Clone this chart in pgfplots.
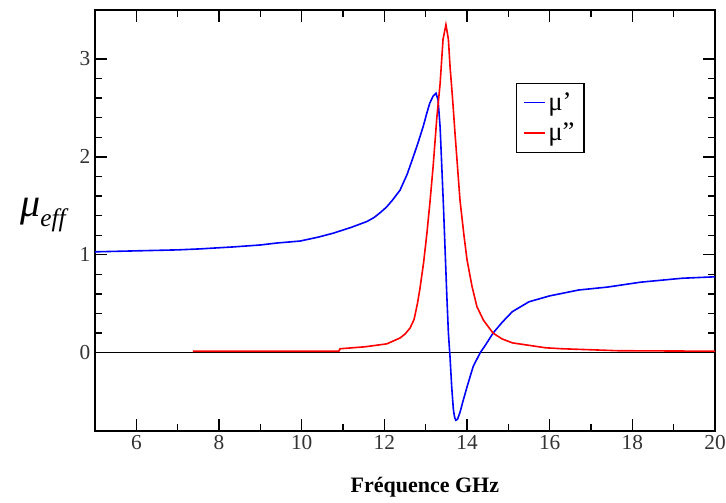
\documentclass[border=0pt]{standalone}
\usepackage{fontspec}
\setmainfont{Liberation Serif}
\usepackage{pgfplots}
\pgfplotsset{compat=1.18}
\begin{document}
\begin{tikzpicture}
\begin{axis}[
  scale only axis,
  width=465pt, height=315.75pt,
  xmin=5, xmax=20, ymin=-0.8, ymax=3.5,
  xtick={6,8,...,20}, ytick={0,1,2,3},
  minor x tick num=1, minor y tick num=4,
  tick align=inside,
  major tick length=9pt, minor tick length=5pt,
  axis line style={line width=1pt},
  every tick/.style={black, line width=1pt},
  tick label style={font=\fontsize{16}{17}\selectfont, text=black!80},
  /pgf/number format/assume math mode=true,
  xlabel={\fontsize{16.5}{18}\selectfont\bfseries Fréquence GHz},
  xlabel style={at={(axis description cs:0.532,0)}, anchor=center, yshift=-42pt},
  clip=false,
  legend style={at={(0.679,0.827)}, anchor=north west, draw=black, line width=1pt,
    font=\fontsize{20}{22}\selectfont, inner xsep=5pt, inner ysep=5pt, row sep=4pt},
  legend cell align=left,
  legend image code/.code={\draw[#1, line width=1.2pt] (0cm,0cm) -- (0.55cm,0cm);},
]
\addplot[black, line width=1pt, forget plot] coordinates {(5,0) (20,0)};
\addplot[blue, line width=1.2pt] coordinates {
(5,1.03) (6,1.04) (7,1.05) (7.54,1.06) (8.34,1.08) (9,1.10) (9.4,1.12) (9.96,1.14)
(10.4,1.18) (10.76,1.22) (11.2,1.28) (11.58,1.34) (11.75,1.38) (11.9,1.43) (12.06,1.49)
(12.2,1.56) (12.38,1.66) (12.55,1.82) (12.7,2.0) (12.82,2.15) (12.94,2.31) (13.03,2.45)
(13.1,2.55) (13.18,2.62) (13.25,2.65) (13.3,2.58) (13.35,2.3) (13.39,1.9) (13.43,1.5)
(13.47,1.05) (13.51,0.6) (13.55,0.2) (13.59,-0.05) (13.63,-0.35) (13.67,-0.58)
(13.7,-0.66) (13.73,-0.69) (13.77,-0.68) (13.83,-0.61) (13.9,-0.5) (14.0,-0.35)
(14.15,-0.14) (14.32,0) (14.45,0.08) (14.63,0.2) (14.85,0.31) (15.1,0.42) (15.5,0.52)
(16,0.58) (16.7,0.64) (17.4,0.67) (18.2,0.72) (19.2,0.76) (20,0.775)
};
\addlegendentry{μ'}
\addplot[red, line width=1.2pt] coordinates {
(7.37,0.015) (10.9,0.015) (10.93,0.04) (11.53,0.06) (12.06,0.09) (12.38,0.15) (12.5,0.19)
(12.62,0.25) (12.72,0.34) (12.8,0.5) (12.86,0.65) (12.95,0.92) (13.03,1.22) (13.1,1.52)
(13.18,1.9) (13.27,2.4) (13.35,2.75) (13.42,3.2) (13.49,3.35) (13.55,3.2) (13.59,2.92)
(13.65,2.6) (13.71,2.24) (13.77,1.9) (13.83,1.56) (13.92,1.22) (14.0,0.95) (14.12,0.68)
(14.24,0.47) (14.4,0.33) (14.63,0.2) (14.85,0.14) (15.1,0.1) (15.9,0.05) (16.3,0.04)
(17.65,0.02) (20,0.015)
};
\addlegendentry{μ''}
\node[anchor=center] at ([xshift=-39pt]rel axis cs:0,0.513)
  {{\fontsize{30}{32}\selectfont\itshape μ}\raisebox{-8pt}{\fontsize{19}{20}\selectfont\itshape eff}};
\end{axis}
\pgfresetboundingbox
\path ([xshift=-71.25pt,yshift=-53.25pt]current axis.south west) rectangle ([xshift=8.25pt,yshift=7.5pt]current axis.north east);
\end{tikzpicture}
\end{document}
